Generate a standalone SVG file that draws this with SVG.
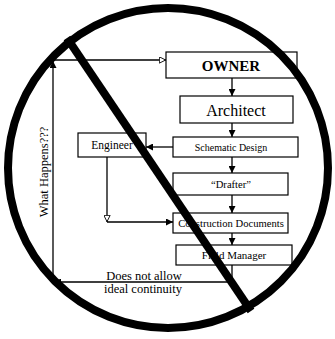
<svg xmlns="http://www.w3.org/2000/svg" width="335" height="339" viewBox="0 0 335 339">
<style>
.box{fill:#fff;stroke:#000;stroke-width:1.2}
.t{fill:#000;text-anchor:middle}
.c{fill:none;stroke:#000;stroke-width:1.3}
.no{fill:none;stroke:#000;stroke-width:8}
</style>
<defs>
<marker id="ah" viewBox="0 0 10 10" refX="10" refY="5" markerWidth="7" markerHeight="7" markerUnits="userSpaceOnUse" orient="auto"><path d="M0,0L10,5L0,10z" fill="#000"/></marker>
<marker id="ao" viewBox="0 0 10 10" refX="10" refY="5" markerWidth="7" markerHeight="7" markerUnits="userSpaceOnUse" orient="auto"><path d="M0.5,0.5L9.5,5L0.5,9.5z" fill="#fff" stroke="#000" stroke-width="1.3"/></marker>
</defs>
<rect width="335" height="339" fill="#fff"/>
<g id="connectors">
<line class="c" x1="232" y1="78" x2="232" y2="96" marker-end="url(#ah)"/>
<line class="c" x1="232" y1="123" x2="232" y2="137" marker-end="url(#ah)"/>
<line class="c" x1="232" y1="157" x2="232" y2="173" marker-end="url(#ah)"/>
<line class="c" x1="173" y1="147" x2="146" y2="147" marker-end="url(#ah)"/>
<line class="c" x1="232" y1="195" x2="232" y2="213" marker-end="url(#ah)"/>
<line class="c" x1="232" y1="233" x2="232" y2="245" marker-end="url(#ah)"/>
<line class="c" x1="107" y1="157" x2="107" y2="222" marker-end="url(#ao)"/>
<line class="c" x1="107" y1="222" x2="173" y2="222" marker-end="url(#ah)"/>
<polyline class="c" points="232,265 232,282 54,282" marker-end="url(#ah)"/>
<line class="c" x1="53" y1="282" x2="53" y2="61" marker-end="url(#ah)"/>
<line class="c" x1="53" y1="60" x2="166" y2="60" marker-end="url(#ao)"/>
</g>
<g font-family="Liberation Serif, DejaVu Serif, serif">
<g id="owner"><rect class="box" x="166" y="52" width="131" height="26"/><text class="t" x="231" y="71" font-size="15" font-weight="bold">OWNER</text></g>
<g id="architect"><rect class="box" x="180" y="96" width="113" height="27"/><text class="t" x="236" y="116" font-size="16">Architect</text></g>
<g id="schematic"><rect class="box" x="173" y="137" width="125" height="20"/><text class="t" x="231" y="151" font-size="10">Schematic Design</text></g>
<g id="engineer"><rect class="box" x="78" y="133" width="68" height="24"/><text class="t" x="112" y="149" font-size="11.5">Engineer</text></g>
<g id="drafter"><rect class="box" x="173" y="173" width="115" height="22"/><text class="t" x="231" y="188" font-size="10.6">“Drafter”</text></g>
<g id="construction"><rect class="box" x="173" y="213" width="115" height="20"/><text class="t" x="231" y="227" font-size="10.6">Construction Documents</text></g>
<g id="field"><rect class="box" x="176" y="245" width="116" height="20"/><text class="t" x="234" y="259" font-size="11">Field Manager</text></g>
<g id="labels">
<text class="t" x="144" y="280" font-size="12.5">Does not allow</text>
<text class="t" x="143" y="293" font-size="12.5">ideal continuity</text>
<text class="t" transform="translate(48,172) rotate(-90)" font-size="12.5">What Happens???</text>
</g>
</g>
<g id="prohibition">
<circle class="no" cx="168" cy="168" r="160"/>
<line class="no" x1="67" y1="38" x2="251" y2="311"/>
</g>
</svg>
